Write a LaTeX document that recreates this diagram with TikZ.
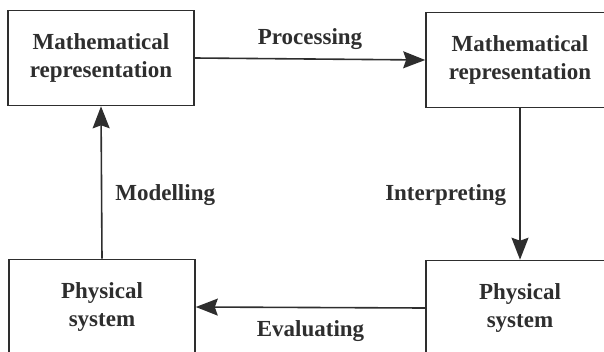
\documentclass[tikz,border=0pt]{standalone}
\usepackage{fontspec}
\setmainfont{Liberation Serif}
\usetikzlibrary{arrows.meta,positioning}
\definecolor{ink}{HTML}{2E2E2E}
\tikzset{%
	block/.style = {draw=ink, line width=1.6pt, rectangle, align=center,
		minimum width=186pt, minimum height=95pt, text=ink,
		font=\fontsize{23}{28.5}\selectfont\bfseries}, % Box
	tag/.style   = {text=ink, inner sep=0pt,
		font=\fontsize{23}{28}\selectfont\bfseries}, % Arrow text
	link/.style  = {draw=ink, line width=1.6pt,
		-{Stealth[length=22pt,width=17pt,inset=3pt]}} % Arrow
}
\begin{document}
\begin{tikzpicture}[x=1pt,y=-1pt]
			\useasboundingbox (0,0) rectangle (604,351);
			\node[block]                     (mathL) at (101,58)  {Mathematical\\representation};
			\node[block,minimum width=188pt] (mathR) at (520,60)  {Mathematical\\representation};
			\node[block]                     (physL) at (102,307) {Physical\\system};
			\node[block,minimum width=188pt] (physR) at (520,308) {Physical\\system};

			\draw[link] (mathL.east) -- node[tag,above=9pt] {Processing} (mathR.west);
			\draw[link] (mathR.south) -- node[tag,pos=0.57,left=13pt] {Interpreting} (physR.north);
			\draw[link] (physR.west) -- node[tag,below=12pt] {Evaluating} (physL.east);
			\draw[link] (physL.north) -- node[tag,pos=0.42,right=13pt] {Modelling} (mathL.south);
		\end{tikzpicture}
\end{document}
